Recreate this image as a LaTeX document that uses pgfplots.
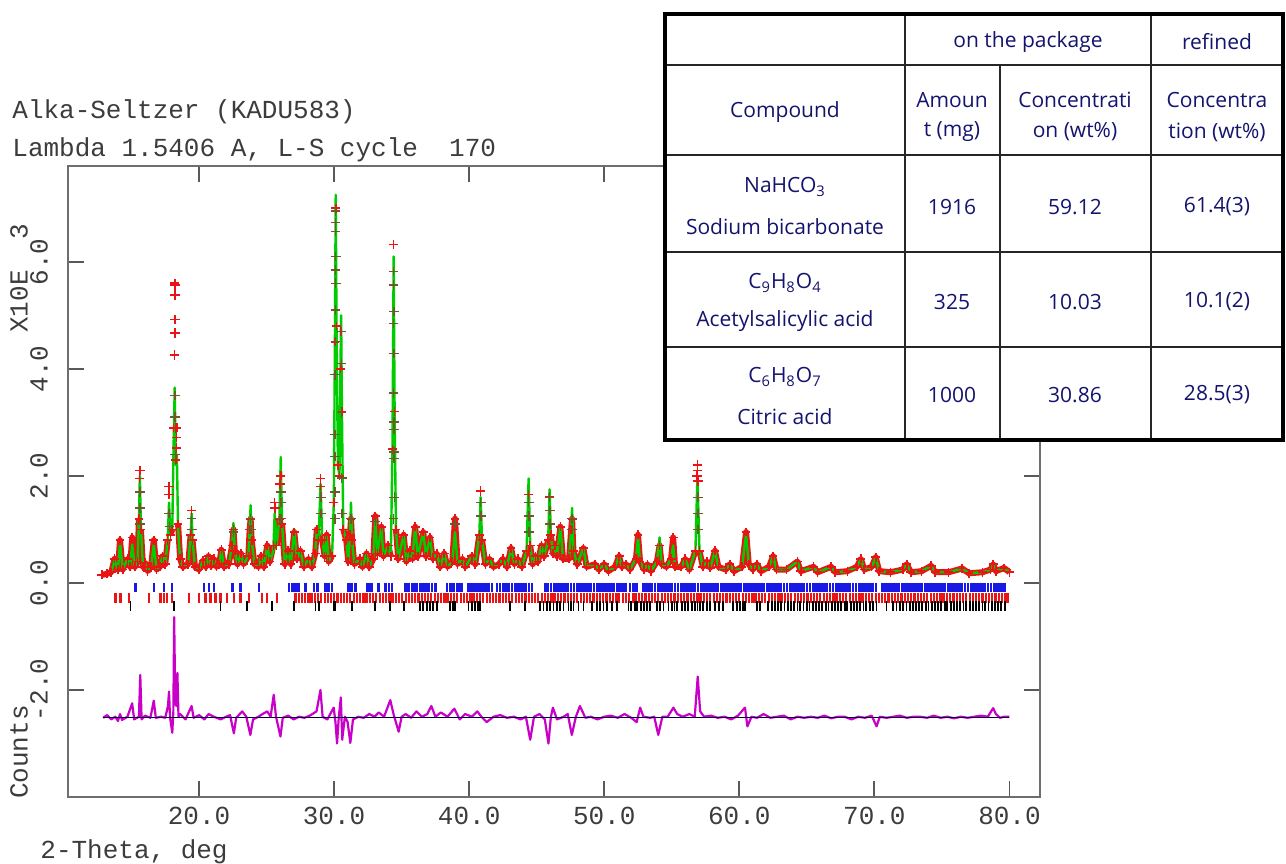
\documentclass[border=0pt]{standalone}
\usepackage{pgfplots}
\usepackage{pgfplotstable}
\pgfplotsset{compat=1.18}
\usepackage{fontspec}
\setmainfont{Liberation Mono}
\newfontfamily\tabfont{Open Sans}
\definecolor{calcg}{RGB}{0,205,0}
\definecolor{obsr}{RGB}{235,20,20}
\definecolor{olivex}{RGB}{110,90,40}
\definecolor{diffm}{RGB}{200,0,200}
\definecolor{navyt}{RGB}{20,20,110}
\definecolor{tickb}{RGB}{25,25,230}
\definecolor{axgray}{RGB}{110,110,110}
\definecolor{txtgray}{RGB}{60,60,60}

\pgfplotstableread{
x calc obs
12.8 0.15 0.15
13.2 0.17 0.17
13.5 0.2 0.2
13.75 0.42 0.45
14.0 0.25 0.25
14.15 0.75 0.8
14.35 0.25 0.25
14.7 0.45 0.45
14.9 0.3 0.3
15.05 0.72 0.85
15.25 0.3 0.3
15.45 0.4 0.4
15.55 1.2 1.2
15.62 2.0 2.1
15.7 1.0 1.0
15.85 0.3 0.3
16.0 0.38 0.38
16.2 0.22 0.22
16.45 0.3 0.3
16.65 0.72 0.8
16.85 0.25 0.25
17.1 0.3 0.3
17.3 0.5 0.5
17.5 0.35 0.35
17.68 0.8 0.8
17.78 1.5 1.8
17.88 0.9 0.9
18.02 1.0 1.0
18.12 2.6 2.9
18.2 3.65 5.6
18.28 2.2 2.3
18.36 2.4 2.9
18.45 1.0 1.1
18.6 0.45 0.45
18.8 0.3 0.3
19.2 0.35 0.35
19.38 0.9 0.9
19.45 1.3 1.35
19.52 0.8 0.8
19.7 0.3 0.3
20.0 0.25 0.25
20.3 0.42 0.42
20.5 0.3 0.3
20.7 0.5 0.5
20.9 0.32 0.32
21.1 0.45 0.45
21.3 0.3 0.3
21.5 0.35 0.35
21.65 0.62 0.62
21.85 0.3 0.3
22.2 0.35 0.35
22.45 0.7 0.7
22.55 1.12 1.0
22.65 0.6 0.6
22.85 0.35 0.35
23.1 0.55 0.55
23.3 0.35 0.35
23.65 0.5 0.5
23.75 1.0 1.0
23.82 1.45 1.2
23.9 0.8 0.8
24.1 0.35 0.35
24.4 0.3 0.3
24.6 0.5 0.5
24.8 0.3 0.3
25.05 0.7 0.7
25.25 0.4 0.4
25.5 0.6 0.7
25.6 1.3 1.5
25.75 0.7 0.7
25.95 1.2 1.2
26.05 2.35 2.0
26.15 1.1 1.1
26.35 0.35 0.35
26.6 0.6 0.6
26.8 0.35 0.35
27.05 1.0 0.95
27.25 0.45 0.45
27.5 0.6 0.6
27.75 0.3 0.3
28.1 0.45 0.45
28.35 0.3 0.3
28.6 0.55 0.55
28.72 1.0 1.0
28.85 0.8 0.8
29.0 1.85 1.95
29.12 0.8 0.8
29.3 0.5 0.5
29.45 0.9 0.9
29.6 0.4 0.4
29.85 0.5 0.5
29.98 1.5 1.5
30.06 4.5 4.5
30.12 7.25 7.0
30.18 4.8 4.8
30.28 2.2 2.2
30.4 2.0 2.0
30.47 4.0 4.0
30.52 5.0 4.7
30.58 3.2 3.2
30.68 1.0 1.0
30.9 0.8 0.8
31.05 0.4 0.4
31.18 0.9 0.9
31.25 1.5 1.2
31.33 0.8 0.8
31.5 0.35 0.35
31.9 0.45 0.45
32.1 0.3 0.3
32.4 0.55 0.55
32.6 0.3 0.3
32.9 0.45 0.45
33.05 1.2 1.25
33.2 0.55 0.55
33.5 1.05 1.05
33.65 0.5 0.5
34.0 0.7 0.7
34.2 0.5 0.5
34.32 2.5 2.5
34.41 6.1 6.32
34.48 3.2 3.2
34.58 1.0 1.0
34.75 0.45 0.45
35.15 0.9 0.9
35.35 0.4 0.4
35.6 0.6 0.6
35.8 0.45 0.45
36.0 1.05 1.05
36.2 0.5 0.5
36.6 0.95 0.95
36.8 0.5 0.5
37.1 0.85 0.85
37.3 0.45 0.45
37.6 0.55 0.55
37.85 0.3 0.3
38.15 0.55 0.55
38.4 0.3 0.3
38.75 0.4 0.4
38.95 0.95 1.2
39.15 0.35 0.35
39.5 0.45 0.45
39.7 0.3 0.3
40.2 0.5 0.5
40.45 0.35 0.35
40.75 0.9 0.9
40.85 1.6 1.72
40.95 0.8 0.8
41.2 0.35 0.35
41.5 0.45 0.45
41.8 0.3 0.3
42.2 0.35 0.35
42.5 0.45 0.45
42.8 0.3 0.3
43.1 0.65 0.65
43.35 0.35 0.35
43.6 0.45 0.45
43.9 0.3 0.3
44.25 0.6 0.6
44.4 1.95 1.65
44.52 0.7 0.7
44.7 0.35 0.35
44.9 0.5 0.5
45.1 0.4 0.4
45.35 0.7 0.7
45.55 0.5 0.5
45.85 0.8 0.8
45.95 1.75 1.6
46.05 0.9 0.9
46.2 0.55 0.55
46.35 0.7 0.7
46.5 0.5 0.5
46.75 1.05 1.05
46.95 0.45 0.45
47.4 0.45 0.45
47.55 1.0 1.0
47.62 1.4 1.2
47.72 0.6 0.6
48.0 0.35 0.35
48.45 0.65 0.65
48.7 0.3 0.3
49.3 0.35 0.35
49.6 0.25 0.25
50.0 0.35 0.35
50.3 0.22 0.22
50.8 0.3 0.3
51.1 0.5 0.5
51.3 0.3 0.3
51.6 0.35 0.35
51.9 0.25 0.25
52.35 0.45 0.45
52.5 0.85 0.9
52.65 0.4 0.4
52.95 0.25 0.25
53.2 0.35 0.35
53.45 0.22 0.22
53.9 0.4 0.4
54.1 0.85 0.7
54.25 0.35 0.35
54.6 0.3 0.3
54.95 0.45 0.45
55.1 0.7 0.85
55.25 0.3 0.3
55.7 0.3 0.3
56.0 0.45 0.45
56.3 0.25 0.25
56.75 0.6 0.6
56.9 2.0 2.2
57.05 0.6 0.6
57.3 0.3 0.3
57.6 0.4 0.4
57.85 0.28 0.28
58.2 0.6 0.6
58.45 0.3 0.3
59.0 0.25 0.25
59.3 0.35 0.35
59.6 0.22 0.22
60.2 0.3 0.3
60.5 0.9 0.95
60.7 0.35 0.35
61.0 0.25 0.25
61.3 0.35 0.35
61.6 0.22 0.22
62.2 0.3 0.3
62.5 0.5 0.5
62.75 0.25 0.25
63.5 0.25 0.25
64.3 0.4 0.4
64.55 0.22 0.22
65.5 0.3 0.3
65.8 0.2 0.2
66.8 0.3 0.3
67.1 0.2 0.2
68.0 0.22 0.22
68.7 0.3 0.3
69.0 0.45 0.45
69.25 0.25 0.25
69.8 0.3 0.3
70.1 0.48 0.48
70.35 0.22 0.22
71.2 0.2 0.2
72.1 0.25 0.25
72.4 0.35 0.35
72.7 0.2 0.2
73.5 0.22 0.22
74.2 0.32 0.32
74.5 0.2 0.2
75.5 0.2 0.2
76.5 0.27 0.27
77.0 0.18 0.18
78.0 0.2 0.2
78.6 0.25 0.25
78.8 0.35 0.35
79.0 0.22 0.22
79.6 0.28 0.28
80.0 0.2 0.2
}\prof

\pgfplotstableread{
x y
18.2 5.57
18.2 5.38
18.21 4.92
18.2 4.67
18.19 4.26
18.3 2.9
18.32 2.72
18.34 2.52
15.62 2.1
15.6 1.95
17.78 1.8
17.76 1.65
26.02 2.0
25.98 1.85
29.0 1.95
29.0 1.8
34.41 6.32
56.9 2.2
56.9 2.1
56.88 2.0
56.92 1.9
25.6 1.5
25.62 1.4
40.85 1.72
44.4 1.65
}\redx

\pgfplotstableread{
x y
30.1 6.95
30.11 6.73
30.1 6.57
30.12 6.1
30.11 5.85
30.12 5.6
30.1 5.1
30.09 4.51
30.08 3.89
30.08 2.77
30.07 2.36
30.07 1.7
30.06 1.2
30.54 4.7
30.55 4.1
30.56 3.18
30.57 1.96
30.58 1.3
34.41 5.82
34.41 5.57
34.42 5.07
34.41 4.85
34.42 4.29
34.4 3.55
34.42 3.01
34.43 2.87
34.43 2.45
34.44 2.33
34.45 1.6
34.4 1.2
26.05 1.7
26.07 1.5
26.08 1.2
29.02 1.6
29.03 1.3
40.86 1.5
40.87 1.25
44.41 1.5
44.42 1.25
44.43 0.95
45.96 1.6
45.97 1.35
45.97 1.1
47.62 1.2
47.63 1.0
56.93 1.6
56.94 1.3
56.95 1.0
19.45 1.2
19.46 1.0
22.55 0.95
23.82 1.2
23.84 1.0
31.25 1.2
33.05 1.15
38.95 1.1
15.63 1.7
15.64 1.4
15.65 1.1
17.79 1.3
17.8 1.05
18.22 3.5
18.23 3.1
18.24 2.4
}\darkx

\pgfplotstableread{
x y
12.9 -2.52
13.2 -2.47
13.5 -2.55
13.8 -2.5
14.0 -2.58
14.15 -2.45
14.3 -2.56
14.7 -2.5
15.05 -2.25
15.2 -2.55
15.55 -2.5
15.65 -1.72
15.75 -2.55
16.0 -2.48
16.4 -2.52
16.65 -2.2
16.8 -2.52
17.2 -2.5
17.5 -2.52
17.7 -2.3
17.78 -2.03
17.85 -2.5
18.02 -2.8
18.1 -2.4
18.16 -0.64
18.24 -2.2
18.32 -2.3
18.4 -1.68
18.48 -2.5
18.6 -2.45
19.0 -2.55
19.45 -2.3
19.6 -2.52
20.0 -2.47
20.4 -2.55
20.7 -2.45
21.1 -2.5
21.6 -2.55
22.0 -2.5
22.3 -2.47
22.58 -2.81
22.75 -2.52
23.2 -2.4
23.5 -2.5
23.8 -2.84
24.0 -2.55
24.4 -2.5
24.7 -2.45
25.05 -2.4
25.3 -2.5
25.53 -2.09
25.7 -2.5
26.03 -2.87
26.2 -2.52
26.6 -2.48
27.0 -2.55
27.4 -2.5
27.8 -2.52
28.2 -2.48
28.7 -2.4
28.99 -2.0
29.15 -2.5
29.5 -2.55
29.97 -2.33
30.1 -2.6
30.22 -3.0
30.35 -2.5
30.5 -2.14
30.6 -2.93
30.8 -2.5
31.0 -2.6
31.2 -2.99
31.4 -2.55
31.8 -2.5
32.2 -2.52
32.6 -2.45
33.0 -2.5
33.3 -2.42
33.7 -2.5
34.16 -2.19
34.4 -2.45
34.78 -2.78
35.0 -2.5
35.3 -2.45
35.7 -2.52
36.1 -2.4
36.5 -2.5
36.9 -2.45
37.2 -2.3
37.5 -2.5
37.9 -2.42
38.4 -2.5
38.9 -2.35
39.3 -2.55
39.7 -2.45
40.2 -2.5
40.6 -2.4
40.9 -2.5
41.3 -2.6
41.8 -2.5
42.3 -2.47
42.8 -2.52
43.3 -2.5
43.8 -2.55
44.2 -2.5
44.52 -2.93
44.8 -2.5
45.2 -2.45
45.6 -2.55
45.87 -3.0
46.05 -2.5
46.2 -2.33
46.5 -2.55
47.0 -2.5
47.3 -2.45
47.6 -2.84
47.9 -2.5
48.2 -2.3
48.6 -2.52
49.0 -2.5
49.5 -2.55
50.0 -2.5
50.5 -2.48
51.0 -2.52
51.5 -2.45
52.0 -2.52
52.4 -2.6
52.66 -2.33
52.9 -2.5
53.4 -2.52
53.7 -2.5
54.0 -2.84
54.3 -2.5
54.7 -2.5
55.12 -2.33
55.4 -2.45
55.8 -2.5
56.3 -2.45
56.7 -2.5
56.92 -1.75
57.1 -2.4
57.4 -2.5
57.9 -2.48
58.4 -2.52
58.9 -2.5
59.4 -2.55
59.9 -2.48
60.42 -2.33
60.6 -2.68
60.9 -2.5
61.3 -2.52
61.8 -2.45
62.3 -2.52
62.8 -2.5
63.3 -2.48
63.8 -2.55
64.3 -2.5
64.8 -2.52
65.3 -2.5
65.8 -2.52
66.3 -2.48
66.8 -2.53
67.3 -2.5
67.8 -2.5
68.3 -2.55
68.8 -2.5
69.3 -2.52
69.8 -2.48
70.16 -2.68
70.4 -2.5
70.9 -2.52
71.4 -2.5
71.9 -2.48
72.4 -2.52
72.9 -2.5
73.4 -2.5
73.9 -2.52
74.4 -2.48
74.9 -2.52
75.4 -2.5
75.9 -2.53
76.4 -2.5
76.9 -2.52
77.4 -2.5
77.9 -2.48
78.4 -2.5
78.79 -2.34
79.0 -2.45
79.3 -2.52
79.6 -2.5
80.0 -2.5
}\diff

\begin{document}
\begin{tikzpicture}
\path[use as bounding box] (0,0) rectangle (643pt,431.5pt);
\begin{axis}[
  at={(34pt,33pt)}, anchor=south west,
  scale only axis, width=486pt, height=315.5pt,
  xmin=10.3, xmax=82.26, ymin=-4.0, ymax=7.79,
  axis line style={draw=axgray, line width=0.9pt},
  xtick={20,30,40,50,60,70,80}, ytick={-2,0,2,4,6},
  tick align=inside, major tick length=8pt,
  tick style={draw=black!65, line width=0.9pt},
  minor tick num=0,
  /pgf/number format/assume math mode=true,
  xticklabel={\pgfmathprintnumber[fixed,fixed zerofill,precision=1]{\tick}},
  yticklabel={\pgfmathprintnumber[fixed,fixed zerofill,precision=1]{\tick}},
  ticklabel style={font=\fontsize{13}{15}\selectfont, text=txtgray},
  yticklabel style={rotate=90, anchor=south},
  yticklabel shift=6.5pt,
  xticklabel shift=1.5pt,
]
% observed band
\addplot[obsr, line width=3pt, restrict y to domain=-1:1.3, line join=round] table[x=x,y=obs]{\prof};
\addplot[only marks, mark=+, mark size=2.2pt, obsr, mark options={line width=0.8pt}] table[x=x,y=obs]{\prof};
% calculated
\addplot[calcg, line width=1.2pt, line join=round] table[x=x,y=calc]{\prof};
% crosses on peaks
\addplot[only marks, mark=+, mark size=2.4pt, olivex, mark options={line width=0.7pt}] table[x=x,y=y]{\darkx};
\addplot[only marks, mark=+, mark size=2.4pt, obsr, mark options={line width=0.8pt}] table[x=x,y=y]{\redx};
% reflection ticks
\addplot[only marks, mark=|, mark size=2.25pt, tickb, mark options={line width=1.3pt}] table[row sep=\\, x index=0, y expr=-0.08] {x\\15.3\\16.66\\17.4\\18.0\\20.36\\20.73\\21.1\\22.46\\23.07\\24.43\\26.65\\26.9\\27.14\\27.38\\27.88\\28.5\\28.75\\29.36\\29.6\\29.85\\31.08\\31.3\\31.57\\32.43\\32.62\\32.8\\33.3\\33.79\\34.05\\34.29\\35.27\\35.5\\35.76\\35.95\\36.13\\36.38\\36.57\\36.75\\37.0\\37.25\\37.49\\38.35\\38.6\\38.85\\39.09\\39.28\\39.46\\39.95\\40.18\\40.4\\40.62\\40.85\\41.05\\41.28\\41.48\\41.68\\42.05\\42.28\\42.5\\42.7\\42.91\\43.16\\43.38\\43.6\\43.8\\44.02\\44.22\\44.44\\44.64\\45.63\\45.85\\46.05\\46.27\\46.48\\46.7\\46.9\\47.12\\47.33\\47.55\\47.75\\47.97\\48.18\\48.4\\48.6\\48.82\\49.03\\49.25\\49.45\\49.67\\49.88\\50.1\\50.3\\50.52\\50.72\\50.95\\51.15\\51.37\\51.57\\51.91\\52.15\\52.4\\52.9\\53.12\\53.33\\53.55\\53.75\\53.97\\54.18\\54.4\\54.6\\54.82\\55.03\\55.25\\55.45\\55.67\\55.88\\56.1\\56.3\\56.52\\56.73\\56.95\\57.15\\57.37\\57.58\\57.8\\58.0\\58.22\\58.43\\58.65\\58.85\\59.07\\59.28\\59.5\\59.7\\59.92\\60.13\\60.35\\60.55\\60.77\\60.98\\61.2\\61.4\\61.62\\61.83\\62.05\\62.25\\62.47\\62.68\\62.9\\63.1\\63.32\\63.53\\63.75\\63.95\\64.17\\64.38\\64.6\\64.8\\65.02\\65.23\\65.45\\65.65\\65.87\\66.08\\66.3\\66.5\\66.72\\66.93\\67.15\\67.35\\67.57\\67.78\\68.0\\68.2\\68.42\\68.63\\68.85\\69.05\\69.27\\69.48\\69.7\\69.9\\70.12\\70.55\\70.77\\70.98\\71.2\\71.4\\71.62\\71.83\\72.05\\72.25\\72.47\\72.68\\72.9\\73.1\\73.32\\73.53\\73.75\\73.95\\74.17\\74.38\\74.6\\74.8\\75.02\\75.23\\75.45\\75.65\\75.87\\76.08\\76.3\\76.5\\76.72\\76.93\\77.15\\77.35\\77.57\\77.78\\78.0\\78.2\\78.42\\78.63\\78.85\\79.05\\79.27\\79.48\\79.65\\};
\addplot[only marks, mark=|, mark size=2.5pt, obsr, mark options={line width=1.1pt}] table[row sep=\\, x index=0, y expr=-0.28] {x\\13.82\\14.19\\14.8\\16.29\\17.15\\17.4\\17.65\\18.0\\19.25\\19.99\\20.48\\20.85\\21.22\\21.59\\22.08\\22.58\\23.07\\23.69\\24.68\\25.04\\25.78\\27.14\\27.38\\27.6\\27.85\\28.1\\28.33\\28.58\\28.8\\29.05\\29.3\\29.52\\29.77\\30.0\\30.25\\30.5\\30.72\\30.97\\31.2\\31.45\\31.7\\31.92\\32.17\\32.4\\32.65\\32.9\\33.12\\33.37\\33.6\\33.85\\34.1\\34.32\\34.57\\34.8\\35.05\\35.3\\35.52\\35.77\\36.0\\36.25\\36.5\\36.72\\36.97\\37.2\\37.45\\37.7\\37.92\\38.17\\38.4\\38.65\\38.9\\39.12\\39.37\\39.6\\39.85\\40.1\\40.32\\40.57\\40.8\\41.05\\41.3\\41.52\\41.77\\42.0\\42.25\\42.5\\42.72\\42.97\\43.2\\43.45\\43.7\\43.92\\44.17\\44.4\\44.65\\44.9\\45.12\\45.37\\45.6\\45.85\\46.1\\46.32\\46.57\\46.8\\47.05\\47.3\\47.52\\47.77\\48.0\\48.25\\48.5\\48.72\\48.97\\49.2\\49.45\\49.7\\49.92\\50.17\\50.4\\50.65\\50.9\\51.12\\51.37\\51.6\\51.85\\52.1\\52.32\\52.57\\52.8\\53.05\\53.3\\53.52\\53.77\\54.0\\54.25\\54.5\\54.72\\54.97\\55.2\\55.45\\55.7\\55.92\\56.17\\56.4\\56.65\\56.9\\57.12\\57.37\\57.6\\57.85\\58.1\\58.32\\58.57\\58.8\\59.05\\59.3\\59.52\\59.77\\60.0\\60.25\\60.5\\60.72\\60.97\\61.2\\61.45\\61.7\\61.92\\62.17\\62.4\\62.65\\62.9\\63.12\\63.37\\63.6\\63.85\\64.1\\64.32\\64.57\\64.8\\65.05\\65.3\\65.52\\65.77\\66.0\\66.25\\66.5\\66.72\\66.97\\67.2\\67.45\\67.7\\67.92\\68.17\\68.4\\68.65\\68.9\\69.12\\69.37\\69.6\\69.85\\70.1\\70.32\\70.57\\70.8\\71.05\\71.3\\71.52\\71.77\\72.0\\72.25\\72.5\\72.72\\72.97\\73.2\\73.45\\73.7\\73.92\\74.17\\74.4\\74.65\\74.9\\75.12\\75.37\\75.6\\75.85\\76.1\\76.32\\76.57\\76.8\\77.05\\77.3\\77.52\\77.77\\78.0\\78.25\\78.5\\78.72\\78.97\\79.2\\79.45\\79.7\\79.92\\};
\addplot[only marks, mark=|, mark size=2.5pt, black, mark options={line width=0.9pt}] table[row sep=\\, x index=0, y expr=-0.44] {x\\14.93\\18.14\\21.59\\23.56\\25.41\\27.01\\28.62\\28.87\\29.98\\30.1\\31.33\\33.05\\34.16\\35.15\\36.38\\36.6\\36.85\\37.1\\37.35\\37.61\\38.6\\38.8\\38.97\\39.95\\40.2\\40.45\\40.65\\40.82\\43.04\\44.15\\45.26\\45.5\\45.75\\46.0\\46.24\\46.5\\46.75\\46.98\\47.35\\47.55\\47.72\\48.09\\48.46\\49.08\\49.45\\49.7\\49.95\\50.19\\50.56\\50.93\\51.79\\52.0\\52.25\\52.45\\52.7\\52.95\\53.15\\53.39\\53.88\\54.12\\54.38\\54.75\\55.0\\55.2\\55.36\\55.73\\55.98\\56.23\\56.47\\56.7\\56.9\\57.09\\57.34\\57.6\\57.83\\58.2\\58.5\\58.82\\59.56\\59.8\\60.05\\60.25\\60.42\\61.28\\61.53\\62.14\\62.4\\62.64\\62.88\\63.1\\63.35\\63.6\\63.8\\64.05\\64.3\\64.5\\64.75\\65.0\\65.2\\65.45\\65.7\\65.9\\66.15\\66.4\\66.6\\66.85\\67.1\\67.3\\67.55\\67.8\\68.0\\68.25\\68.5\\68.7\\68.95\\69.2\\69.4\\69.65\\69.9\\70.16\\70.9\\71.39\\71.64\\71.88\\72.1\\72.38\\72.62\\72.85\\73.1\\73.3\\73.55\\73.8\\74.0\\74.25\\74.5\\74.7\\74.95\\75.2\\75.4\\75.65\\75.9\\76.1\\76.35\\76.6\\76.8\\77.05\\77.3\\77.5\\77.75\\78.0\\78.2\\78.45\\78.7\\78.9\\79.15\\79.4\\79.65\\};
% difference curve
\addplot[diffm, line width=1.1pt, line join=round] table[x=x,y=y]{\diff};
\addplot[black!75!blue, line width=0.5pt] coordinates {(12.9,-2.52) (80.0,-2.52)};
\end{axis}

% texts outside the axis and the table, in pixel coordinates
\begin{scope}[x=0.5pt, y=-0.5pt, shift={(0pt,431.5pt)}]
\tikzset{mono/.style={font=\fontsize{13}{15}\selectfont, text=txtgray, inner sep=0pt}}
\node[mono, anchor=west] at (12,112) {Alka-Seltzer (KADU583)};
\node[mono, anchor=west] at (12,150) {Lambda 1.5406 A, L-S cycle \ 170};
\node[mono, anchor=west] at (40,852) {2-Theta, deg};
\node[mono, rotate=90] at (19,278) {X10E \ 3};
\node[mono, rotate=90] at (19,752) {Counts};
% table
\fill[white] (665,14) rectangle (1284,440);
\draw[black!85, line width=1pt] (665,65) -- (1284,65);
\draw[black!85, line width=1pt] (665,155) -- (1284,155);
\draw[black!85, line width=1pt] (665,252) -- (1284,252);
\draw[black!85, line width=1pt] (665,347) -- (1284,347);
\draw[black!85, line width=1pt] (905,14) -- (905,440);
\draw[black!85, line width=1pt] (1000,65) -- (1000,440);
\draw[black!85, line width=1pt] (1151,14) -- (1151,440);
\draw[black, line width=2pt] (665,14) rectangle (1283,440);
\tikzset{tt/.style={font=\tabfont\fontsize{10.5}{12}\selectfont, text=navyt, inner sep=0pt}}
\node[tt] at (1028,42) {on the package};
\node[tt] at (1217,42) {refined};
\node[tt] at (785,112) {Compound};
\node[tt] at (952,100) {Amoun};
\node[tt] at (952,132) {t (mg)};
\node[tt] at (1075,100) {Concentrati};
\node[tt] at (1075,132) {on (wt\%)};
\node[tt] at (1217,100) {Concentra};
\node[tt] at (1217,132) {tion (wt\%)};
\node[tt] at (785,187) {NaHCO\textsubscript{3}};
\node[tt] at (785,227) {Sodium bicarbonate};
\node[tt] at (952,207) {1916};
\node[tt] at (1075,207) {59.12};
\node[tt] at (1217,207) {61.4(3)};
\node[tt] at (785,283) {C\textsubscript{9}H\textsubscript{8}O\textsubscript{4}};
\node[tt] at (785,321) {Acetylsalicylic acid};
\node[tt] at (952,302) {325};
\node[tt] at (1075,302) {10.03};
\node[tt] at (1217,302) {10.1(2)};
\node[tt] at (785,377) {C\textsubscript{6}H\textsubscript{8}O\textsubscript{7}};
\node[tt] at (785,417) {Citric acid};
\node[tt] at (952,395) {1000};
\node[tt] at (1075,395) {30.86};
\node[tt] at (1217,395) {28.5(3)};
\end{scope}
\end{tikzpicture}
\end{document}
